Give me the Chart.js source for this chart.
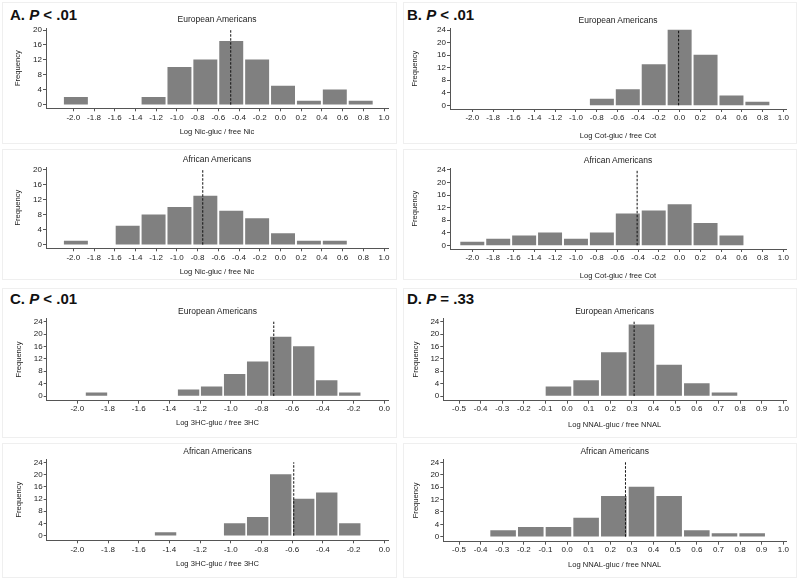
<!DOCTYPE html>
<html>
<head>
<meta charset="utf-8">
<script src="https://cdn.jsdelivr.net/npm/chart.js@4.4.1/dist/chart.umd.min.js"></script>
<style>
  body { margin: 0; background: #fff; }
  #fig { position: relative; width: 800px; height: 585px; overflow: hidden;
         font-family: "Liberation Sans", Arial, sans-serif; color: #222; }
  .frame { position: absolute; border: 1px solid #efefef; box-sizing: border-box; }
  .lab { position: absolute; font-weight: bold; font-size: 15px; line-height: 1;
         transform: translateY(-50%); color: #111; white-space: nowrap; }
  .ttl { position: absolute; font-size: 8.5px; line-height: 1; white-space: nowrap;
         transform: translate(-50%, -50%); }
  canvas { position: absolute; }
</style>
</head>
<body>
<div id="fig"></div>
<script>
// bin centres and counts
const nicBins = [-1.975, -1.725, -1.475, -1.225, -0.975, -0.725, -0.475, -0.225, 0.025, 0.275, 0.525, 0.775];
const nicEA = [2, 0, 0, 2, 10, 12, 17, 12, 5, 1, 4, 1];
const nicAA = [1, 0, 5, 8, 10, 13, 9, 7, 3, 1, 1, 0];
const nicMeanEA = -0.48, nicMeanAA = -0.75;

const cotBins = [-2.0, -1.75, -1.5, -1.25, -1.0, -0.75, -0.5, -0.25, 0.0, 0.25, 0.5, 0.75];
const cotEA = [0, 0, 0, 0, 0, 2, 5, 13, 24, 16, 3, 1];
const cotAA = [1, 2, 3, 4, 2, 4, 10, 11, 13, 7, 3, 0];
const cotMeanEA = -0.01, cotMeanAA = -0.41;

const hcBins = [-1.875, -1.725, -1.575, -1.425, -1.275, -1.125, -0.975, -0.825, -0.675, -0.525, -0.375, -0.225];
const hcEA = [1, 0, 0, 0, 2, 3, 7, 11, 19, 16, 5, 1];
const hcAA = [0, 0, 0, 1, 0, 0, 4, 6, 20, 12, 14, 4];
const hcMeanEA = -0.72, hcMeanAA = -0.59;

const nnalBins = [-0.296, -0.168, -0.040, 0.088, 0.216, 0.344, 0.472, 0.600, 0.728, 0.856];
const nnalEA = [0, 0, 3, 5, 14, 23, 10, 4, 1, 0];
const nnalAA = [2, 3, 3, 6, 13, 16, 13, 2, 1, 1];
const nnalMeanEA = 0.31, nnalMeanAA = 0.27;

// tick labels
const ticksWide = [-2.0, -1.8, -1.6, -1.4, -1.2, -1.0, -0.8, -0.6, -0.4, -0.2, 0.0, 0.2, 0.4, 0.6, 0.8, 1.0];
const ticksHC = [-2.0, -1.8, -1.6, -1.4, -1.2, -1.0, -0.8, -0.6, -0.4, -0.2, 0.0];
const ticksNNAL = [-0.5, -0.4, -0.3, -0.2, -0.1, 0.0, 0.1, 0.2, 0.3, 0.4, 0.5, 0.6, 0.7, 0.8, 0.9, 1.0];
const yTicks20 = [0, 4, 8, 12, 16, 20], yMinor20 = [2, 6, 10, 14, 18];
const yTicks24 = [0, 4, 8, 12, 16, 20, 24], yMinor24 = [2, 6, 10, 14, 18, 22];

Chart.defaults.font.family = '"Liberation Sans", Arial, sans-serif';

const fig = document.getElementById('fig');

// panel letters
const labels = [
  { x: 10, y: 14.3, letter: 'A.', rest: ' &lt; .01' },
  { x: 407, y: 14.3, letter: 'B.', rest: ' &lt; .01' },
  { x: 10, y: 298.3, letter: 'C.', rest: ' &lt; .01' },
  { x: 407, y: 298.3, letter: 'D.', rest: ' = .33' }
];
labels.forEach(l => {
  const d = document.createElement('div');
  d.className = 'lab';
  d.style.left = l.x + 'px'; d.style.top = l.y + 'px';
  d.innerHTML = l.letter + ' <i>P</i>' + l.rest;
  fig.appendChild(d);
});

// one entry per small histogram (geometry in page px)
const subs = [
  { frame: [2, 2, 395, 142], cv: [2, 2, 395, 145], l: 46, r: 388, xa: [73.3, -2.0], xb: [384, 1.0],
    zeroY: 104.7, topY: 30, t: 28, b: 108.3, tickY: 117.3, xTitleY: 132.3, yTitleX: 18, titleY: 19.3,
    title: 'European Americans', xTitle: 'Log Nic-gluc / free Nic', bins: nicBins, counts: nicEA, mean: nicMeanEA,
    xTicks: ticksWide, yTicks: yTicks20, yMinor: yMinor20 },
  { frame: [2, 149, 395, 131], cv: [2, 149, 395, 135], l: 46, r: 388, xa: [73.3, -2.0], xb: [384, 1.0],
    zeroY: 244.7, topY: 170, t: 167, b: 248.3, tickY: 257.3, xTitleY: 272.3, yTitleX: 18, titleY: 159.3,
    title: 'African Americans', xTitle: 'Log Nic-gluc / free Nic', bins: nicBins, counts: nicAA, mean: nicMeanAA,
    xTicks: ticksWide, yTicks: yTicks20, yMinor: yMinor20 },
  { frame: [403, 2, 394, 142], cv: [403, 2, 394, 145], l: 450, r: 786, xa: [472.3, -2.0], xb: [783.3, 1.0],
    zeroY: 105.3, topY: 30, t: 28.3, b: 109, tickY: 117.3, xTitleY: 136, yTitleX: 415, titleY: 20,
    title: 'European Americans', xTitle: 'Log Cot-gluc / free Cot', bins: cotBins, counts: cotEA, mean: cotMeanEA,
    xTicks: ticksWide, yTicks: yTicks24, yMinor: yMinor24 },
  { frame: [403, 149, 394, 131], cv: [403, 149, 394, 135], l: 450, r: 786, xa: [472.3, -2.0], xb: [783.3, 1.0],
    zeroY: 245.3, topY: 170, t: 168.3, b: 249, tickY: 257.3, xTitleY: 276, yTitleX: 415, titleY: 160,
    title: 'African Americans', xTitle: 'Log Cot-gluc / free Cot', bins: cotBins, counts: cotAA, mean: cotMeanAA,
    xTicks: ticksWide, yTicks: yTicks24, yMinor: yMinor24 },
  { frame: [2, 288, 395, 150], cv: [2, 288, 395, 148], l: 46.7, r: 388.3, xa: [77.3, -2.0], xb: [384.3, 0.0],
    zeroY: 396, topY: 321.7, t: 318.3, b: 400.7, tickY: 409, xTitleY: 422.7, yTitleX: 19, titleY: 311,
    title: 'European Americans', xTitle: 'Log 3HC-gluc / free 3HC', bins: hcBins, counts: hcEA, mean: hcMeanEA,
    xTicks: ticksHC, yTicks: yTicks24, yMinor: yMinor24 },
  { frame: [2, 443, 395, 135], cv: [2, 443, 395, 137], l: 46.7, r: 388.3, xa: [77.3, -2.0], xb: [384.3, 0.0],
    zeroY: 535.7, topY: 462.3, t: 459, b: 540.3, tickY: 550, xTitleY: 564.3, yTitleX: 19, titleY: 450.7,
    title: 'African Americans', xTitle: 'Log 3HC-gluc / free 3HC', bins: hcBins, counts: hcAA, mean: hcMeanAA,
    xTicks: ticksHC, yTicks: yTicks24, yMinor: yMinor24 },
  { frame: [403, 288, 394, 150], cv: [403, 288, 394, 148], l: 443.3, r: 786, xa: [459, -0.5], xb: [783.3, 1.0],
    zeroY: 396, topY: 321.7, t: 318.3, b: 400.7, tickY: 409, xTitleY: 425, yTitleX: 416, titleY: 311,
    title: 'European Americans', xTitle: 'Log NNAL-gluc / free NNAL', bins: nnalBins, counts: nnalEA, mean: nnalMeanEA,
    xTicks: ticksNNAL, yTicks: yTicks24, yMinor: yMinor24 },
  { frame: [403, 443, 394, 135], cv: [403, 443, 394, 137], l: 443.3, r: 786, xa: [459, -0.5], xb: [783.3, 1.0],
    zeroY: 536.7, topY: 462.3, t: 459, b: 541.7, tickY: 550, xTitleY: 565, yTitleX: 416, titleY: 450.7,
    title: 'African Americans', xTitle: 'Log NNAL-gluc / free NNAL', bins: nnalBins, counts: nnalAA, mean: nnalMeanAA,
    xTicks: ticksNNAL, yTicks: yTicks24, yMinor: yMinor24 }
];

const tickFont = 8, axisFont = 7.6;

subs.forEach(s => {
  const f = document.createElement('div');
  f.className = 'frame';
  f.style.left = s.frame[0] + 'px'; f.style.top = s.frame[1] + 'px';
  f.style.width = s.frame[2] + 'px'; f.style.height = s.frame[3] + 'px';
  fig.appendChild(f);

  const [cx, cy, cw, ch] = s.cv;
  const cv = document.createElement('canvas');
  cv.width = cw; cv.height = ch;
  cv.style.left = cx + 'px'; cv.style.top = cy + 'px';
  fig.appendChild(cv);

  const t = document.createElement('div');
  t.className = 'ttl';
  t.style.left = ((s.l + s.r) / 2) + 'px'; t.style.top = s.titleY + 'px';
  t.textContent = s.title;
  fig.appendChild(t);

  // axis ranges from the measured tick positions
  const ppx = (s.xb[0] - s.xa[0]) / (s.xb[1] - s.xa[1]);
  const xmin = s.xa[1] - (s.xa[0] - s.l) / ppx;
  const xmax = s.xa[1] + (s.r - s.xa[0]) / ppx;
  const ppy = (s.zeroY - s.topY) / s.yTicks[s.yTicks.length - 1];
  const ymin = -(s.b - s.zeroY) / ppy;
  const ymax = (s.zeroY - s.t) / ppy;
  const binW = s.bins[1] - s.bins[0];

  new Chart(cv, {
    type: 'bar',
    data: {
      datasets: [
        {
          type: 'line',
          data: [{ x: s.mean, y: 0 }, { x: s.mean, y: s.yTicks[s.yTicks.length - 1] }],
          borderColor: '#111', borderWidth: 1, borderDash: [2.5, 1.5],
          pointRadius: 0, order: 0
        },
        {
          type: 'bar',
          // empty bins are left out so no hairline is drawn for them
          data: s.bins.map((c, i) => ({ x: c, y: s.counts[i] || null })),
          backgroundColor: '#808080', borderWidth: 0,
          barThickness: binW * ppx * 0.9, order: 1
        }
      ]
    },
    options: {
      responsive: false, animation: false, devicePixelRatio: 1,
      layout: { autoPadding: false, padding: { top: s.t - cy, right: cx + cw - s.r, left: 0, bottom: 0 } },
      plugins: { legend: { display: false }, tooltip: { enabled: false } },
      scales: {
        x: {
          type: 'linear', min: xmin, max: xmax, offset: false,
          grid: { offset: false, drawOnChartArea: false, drawTicks: true, tickLength: 3, color: '#555' },
          border: { display: true, color: '#555', width: 1 },
          ticks: {
            autoSkip: false, maxRotation: 0, minRotation: 0,
            padding: s.tickY - s.b - 3 - tickFont * 0.6,
            font: { size: tickFont }, color: '#222',
            callback: v => v.toFixed(1)
          },
          afterBuildTicks: sc => { sc.ticks = s.xTicks.map(v => ({ value: v })); },
          afterFit: sc => { sc.height = cy + ch - s.b; },
          title: {
            display: true, text: s.xTitle, color: '#222', font: { size: axisFont },
            padding: { top: 0, bottom: cy + ch - s.xTitleY - axisFont * 0.6 }
          }
        },
        y: {
          min: ymin, max: ymax,
          grid: {
            drawOnChartArea: false, drawTicks: true, tickLength: 3, color: '#555',
            tickColor: ctx => (ctx.tick && s.yMinor.includes(ctx.tick.value)) ? '#aaa' : '#555'
          },
          border: { display: true, color: '#555', width: 1 },
          ticks: {
            padding: 1, font: { size: tickFont }, color: '#222',
            callback: v => s.yTicks.includes(v) ? String(v) : ''
          },
          afterBuildTicks: sc => {
            sc.ticks = s.yTicks.concat(s.yMinor).sort((a, b) => a - b).map(v => ({ value: v }));
          },
          afterFit: sc => { sc.width = s.l - cx; },
          title: {
            display: true, text: 'Frequency', color: '#222', font: { size: axisFont },
            padding: { top: s.yTitleX - cx - axisFont * 0.6, bottom: 0 }
          }
        }
      }
    }
  });
});
</script>
</body>
</html>
